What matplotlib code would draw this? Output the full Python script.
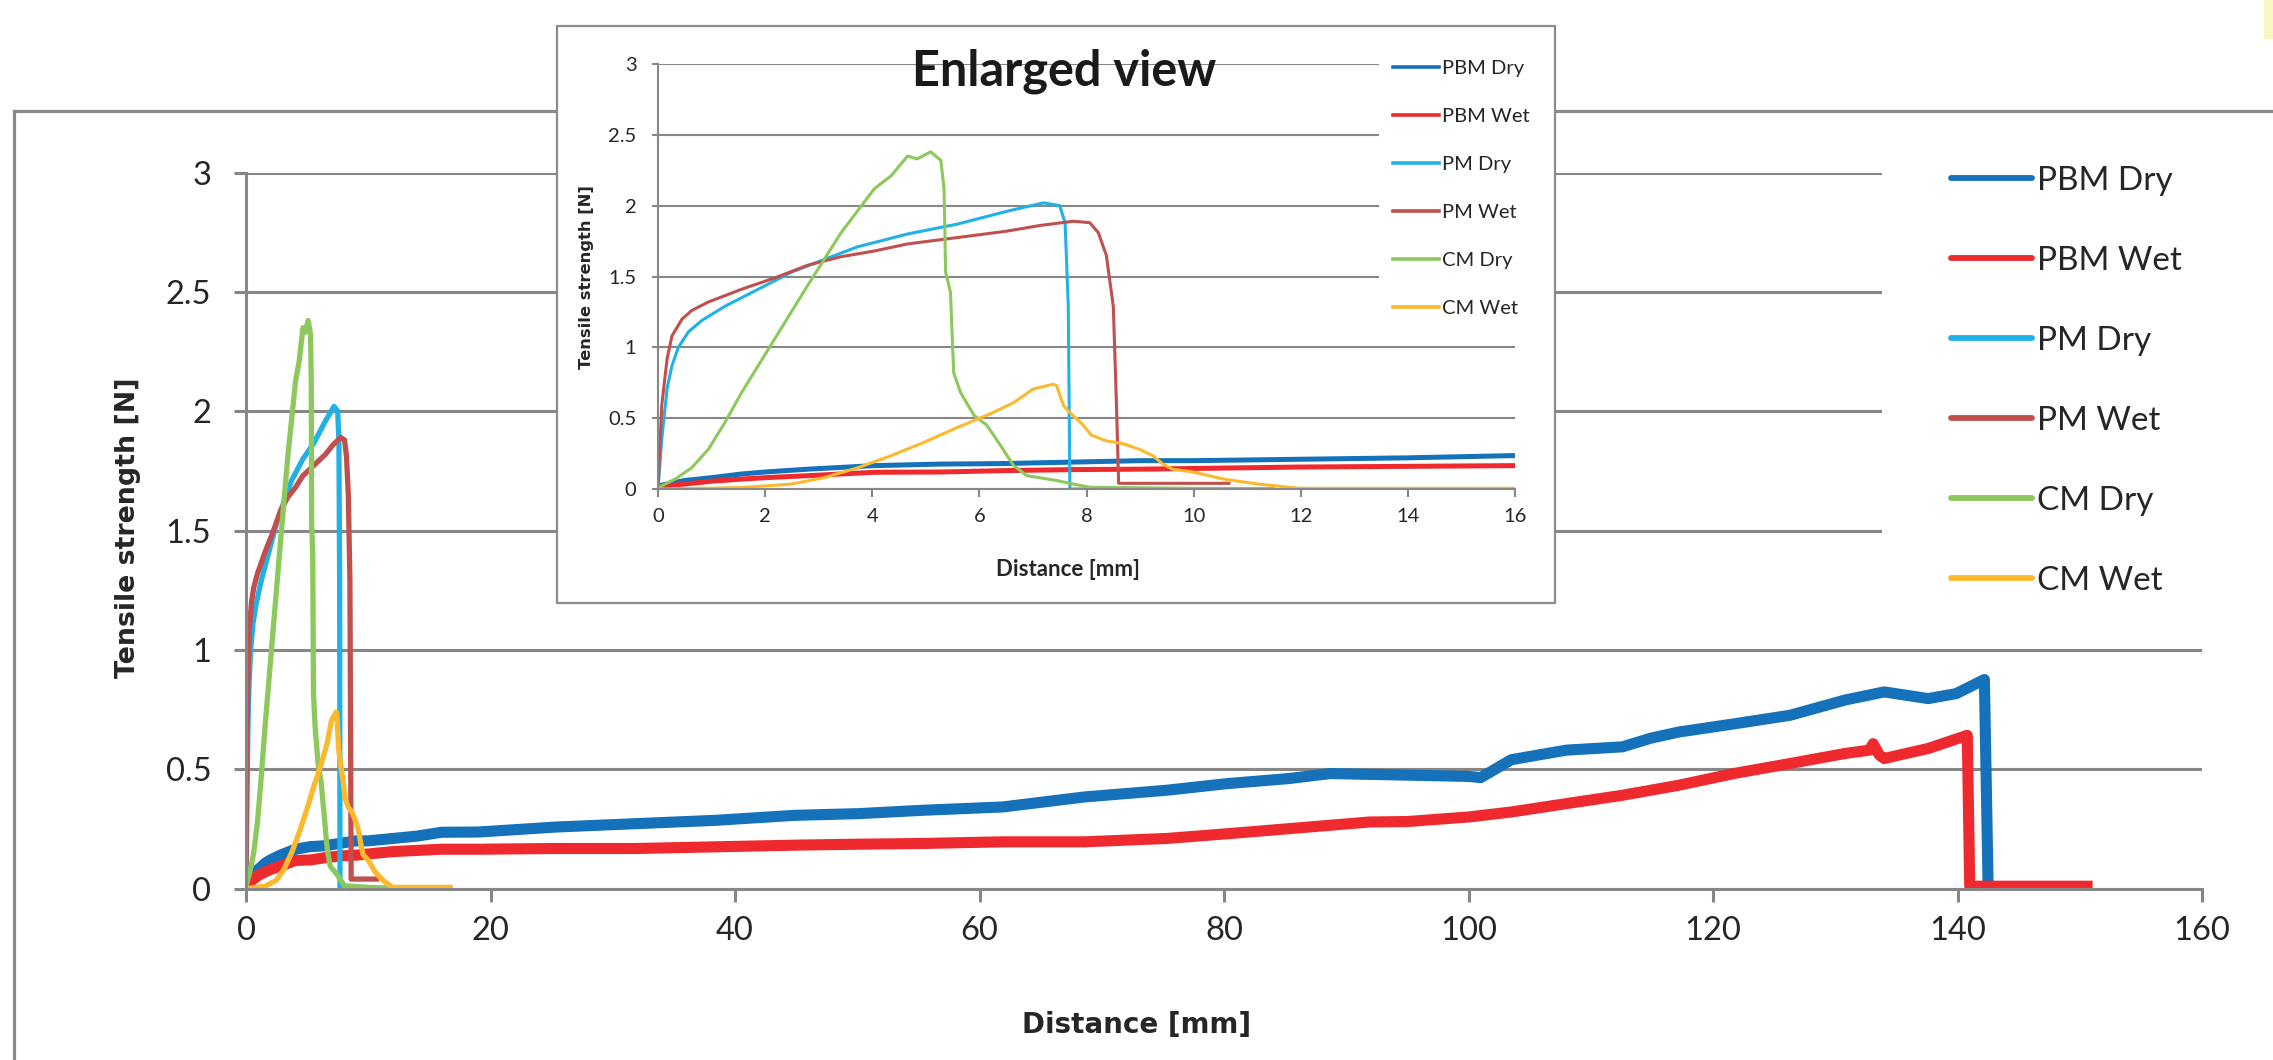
import matplotlib
matplotlib.use("Agg")
import matplotlib.pyplot as plt
from matplotlib.patches import Rectangle
from matplotlib.lines import Line2D

# ---------------- data ----------------
pbm_dry_x = [0, 0.1, 0.32, 0.5, 1.0, 1.56, 2.0, 2.8, 4.04, 5.28, 6.0, 6.5, 7.75, 9.0, 10, 12, 14, 16, 19,
             25.4, 31.9, 38.4, 44.9, 50.1, 55.3, 61.9, 68.6, 75.3, 80.3, 85.3, 88.7, 95.3, 100, 101,
             103.5, 108, 112.6, 114.9, 117.2, 121.7, 126.3, 130.8, 134, 137.6, 139.9, 142.2, 142.5, 142.8]
pbm_dry_y = [0.02, 0.03, 0.047, 0.06, 0.08, 0.106, 0.12, 0.14, 0.165, 0.176, 0.178, 0.18, 0.19, 0.2, 0.2,
             0.21, 0.22, 0.236, 0.237, 0.258, 0.272, 0.286, 0.307, 0.314, 0.328, 0.342, 0.384, 0.412,
             0.44, 0.461, 0.482, 0.475, 0.47, 0.465, 0.54, 0.58, 0.594, 0.63, 0.656, 0.69, 0.726, 0.79,
             0.824, 0.796, 0.817, 0.876, 0.02, 0.01]

pbm_wet_x = [0, 0.1, 0.5, 1.0, 1.56, 2.0, 2.8, 4.04, 5.28, 6.5, 7.75, 9.0, 12, 16, 19, 25.4, 31.9, 38.4,
             44.9, 50.1, 55.3, 61.9, 68.6, 75.3, 80.3, 85.3, 91.9, 95, 100, 103.5, 108, 112.6, 117.2,
             121.7, 126.3, 130.8, 132.8, 133.1, 133.6, 134, 137.6, 140.8, 141.0, 145, 150.6]
pbm_wet_y = [0.01, 0.02, 0.035, 0.055, 0.07, 0.08, 0.094, 0.118, 0.12, 0.13, 0.137, 0.14, 0.155, 0.165,
             0.165, 0.168, 0.168, 0.175, 0.182, 0.186, 0.189, 0.196, 0.196, 0.21, 0.23, 0.251, 0.279,
             0.281, 0.30, 0.321, 0.356, 0.391, 0.433, 0.482, 0.524, 0.566, 0.58, 0.607, 0.56, 0.545,
             0.587, 0.642, 0.01, 0.01, 0.01]

pm_dry_x = [0, 0.07, 0.17, 0.26, 0.38, 0.57, 0.82, 1.25, 1.87, 2.49, 3.1, 3.73, 4.66, 5.59, 6.51, 7.2,
            7.5, 7.6, 7.66, 7.69, 7.95]
pm_dry_y = [0, 0.35, 0.71, 0.87, 1.0, 1.11, 1.19, 1.29, 1.41, 1.53, 1.62, 1.71, 1.8, 1.87, 1.96, 2.02,
            2.0, 1.88, 1.29, 0.0, 0.0]

pm_wet_x = [0, 0.07, 0.17, 0.26, 0.45, 0.63, 0.94, 1.56, 2.18, 2.8, 3.42, 4.04, 4.66, 5.28, 5.9, 6.51,
            7.13, 7.75, 8.06, 8.22, 8.37, 8.5, 8.56, 8.6, 9.5, 10.66]
pm_wet_y = [0, 0.59, 0.92, 1.08, 1.2, 1.26, 1.32, 1.41, 1.49, 1.58, 1.64, 1.68, 1.73, 1.76, 1.79, 1.82,
            1.86, 1.89, 1.88, 1.81, 1.65, 1.29, 0.59, 0.04, 0.04, 0.04]

cm_dry_x = [0, 0.32, 0.63, 0.94, 1.25, 1.56, 2.18, 2.8, 3.42, 4.04, 4.35, 4.66, 4.84, 5.09, 5.28, 5.34,
            5.37, 5.46, 5.52, 5.65, 5.9, 6.14, 6.39, 6.64, 6.89, 7.44, 7.75, 8.06, 10, 11.5]
cm_dry_y = [0.01, 0.07, 0.15, 0.28, 0.47, 0.68, 1.06, 1.44, 1.81, 2.12, 2.21, 2.35, 2.33, 2.38, 2.32,
            2.12, 1.53, 1.39, 0.82, 0.68, 0.52, 0.45, 0.31, 0.165, 0.094, 0.06, 0.035, 0.012, 0.005, 0.003]

cm_wet_x = [0, 1.56, 2.49, 3.1, 3.73, 4.35, 4.97, 5.59, 6.2, 6.64, 7.0, 7.38, 7.44, 7.57, 7.69, 7.94,
            8.09, 8.37, 8.68, 8.99, 9.24, 9.41, 9.6, 9.99, 10.56, 11.2, 11.97, 16.7]
cm_wet_y = [0, 0.01, 0.035, 0.08, 0.15, 0.235, 0.33, 0.435, 0.53, 0.61, 0.705, 0.74, 0.73, 0.59, 0.54,
            0.45, 0.38, 0.34, 0.32, 0.28, 0.235, 0.18, 0.14, 0.12, 0.07, 0.035, 0.005, 0.005]

series_names = ["PBM Dry", "PBM Wet", "PM Dry", "PM Wet", "CM Dry", "CM Wet"]
series_colors = ["#1471BA", "#EE2A2F", "#20B1E7", "#C0504D", "#8CC85C", "#FDB92D"]

main_xticks = [0, 20, 40, 60, 80, 100, 120, 140, 160]
inset_xticks = [0, 2, 4, 6, 8, 10, 12, 14, 16]
yticks = [0, 0.5, 1, 1.5, 2, 2.5, 3]
ytick_labels = ["0", "0.5", "1", "1.5", "2", "2.5", "3"]

xlabel = "Distance [mm]"
ylabel = "Tensile strength [N]"
inset_title = "Enlarged view"

# ---------------- layout ----------------
plt.rcParams["font.family"] = ["Lato", "DejaVu Sans"]
W, H = 2273, 1060
fig = plt.figure(figsize=(W / 100, H / 100), dpi=100)
fig.patch.set_facecolor("white")
GRAY = "#878787"
TXT = "#262626"


def fx(px):
    return px / W


def fy(py):
    return 1 - py / H


xs = [pbm_dry_x, pbm_wet_x, pm_dry_x, pm_wet_x, cm_dry_x, cm_wet_x]
ys = [pbm_dry_y, pbm_wet_y, pm_dry_y, pm_wet_y, cm_dry_y, cm_wet_y]


def style_axes(a, lw):
    a.set_facecolor("none")
    for s in ("top", "right"):
        a.spines[s].set_visible(False)
    for s in ("left", "bottom"):
        a.spines[s].set_color(GRAY)
        a.spines[s].set_linewidth(lw)
    a.set_axisbelow(True)
    a.yaxis.grid(True, color=GRAY, linewidth=lw)
    a.xaxis.grid(False)


# ---- main axes ----
ax = fig.add_axes([fx(246), fy(888.6), (2202 - 246) / W, (888.6 - 172.5) / H], zorder=0)
style_axes(ax, 2.2)
for i in range(6):
    lw = 8.0 if i < 2 else 3.8
    ax.plot(xs[i], ys[i], color=series_colors[i], lw=lw, label=series_names[i],
            solid_joinstyle="round")
ax.set_xlim(0, 160)
ax.set_ylim(0, 3)
ax.set_xticks(main_xticks)
ax.set_xticklabels([str(v) for v in main_xticks])
ax.set_yticks(yticks)
ax.set_yticklabels(ytick_labels)
ax.tick_params(axis="both", direction="out", length=9, width=2.2, color=GRAY,
               labelsize=23.5, labelcolor=TXT)
ax.tick_params(axis="x", pad=11)
ax.tick_params(axis="y", pad=16)
ax.set_xlabel(xlabel, family="DejaVu Sans", weight="bold", fontsize=20, color=TXT, va="center")
ax.xaxis.set_label_coords((1137 - 246) / 1956, (888.6 - 1025) / 716.1)
ax.set_ylabel(ylabel, family="DejaVu Sans", weight="bold", fontsize=19.3, color=TXT, va="center")
ax.yaxis.set_label_coords((128 - 246) / 1956, (888.6 - 528) / 716.1)

# white box behind the main legend (covers grid lines)
ax.add_patch(Rectangle((fx(1882), fy(612)), (2215 - 1882) / W, (612 - 140) / H,
                       transform=fig.transFigure, facecolor="white", edgecolor="none",
                       zorder=1, clip_on=False))
leg = ax.legend(loc="upper left", bbox_to_anchor=(fx(1951), fy(166)), bbox_transform=fig.transFigure,
                frameon=False, fontsize=24, handlelength=2.43, handletextpad=0.15,
                labelspacing=1.5, borderpad=0, borderaxespad=0)
for t in leg.get_texts():
    t.set_color(TXT)
for l in leg.get_lines():
    l.set_linewidth(4.2)
    l.set_solid_capstyle("round")

# ---- outer frame & decorations ----
fig.add_artist(Line2D([fx(14), 1.0], [fy(111), fy(111)], transform=fig.transFigure,
                      color="#8a8a8a", lw=2.3, zorder=0.5))
fig.add_artist(Line2D([fx(14), fx(14)], [fy(111), 0.0], transform=fig.transFigure,
                      color="#8a8a8a", lw=2.3, zorder=0.5))
fig.add_artist(Rectangle((fx(2264), fy(39)), 9 / W, 39 / H, transform=fig.transFigure,
                         facecolor="#FAF6C3", edgecolor="none", zorder=0.5))

# ---- inset ----
fig.add_artist(Rectangle((fx(557), fy(603)), 998 / W, 577 / H, transform=fig.transFigure,
                         facecolor="white", edgecolor="#8c8c8c", lw=1.6, zorder=1))
ins = fig.add_axes([fx(658), fy(489), (1515 - 658) / W, 425 / H], zorder=2)
style_axes(ins, 1.5)
for i in range(6):
    lw = 3.6 if i < 2 else 2.2
    ins.plot(xs[i], ys[i], color=series_colors[i], lw=lw, label=series_names[i], solid_joinstyle="round")
ins.set_xlim(0, 16)
ins.set_ylim(0, 3)
ins.set_xticks(inset_xticks)
ins.set_xticklabels([str(v) for v in inset_xticks])
ins.set_yticks(yticks)
ins.set_yticklabels(ytick_labels)
ins.tick_params(axis="both", direction="out", width=1.5, color=GRAY, labelsize=14.5, labelcolor=TXT)
ins.tick_params(axis="x", length=6, pad=7.5)
ins.tick_params(axis="y", length=4.5, pad=11)
ins.set_xlabel(xlabel, weight="bold", fontsize=16, color=TXT, va="center")
ins.xaxis.set_label_coords((1068 - 658) / 857, (489 - 570) / 425)
ins.set_ylabel(ylabel, family="DejaVu Sans", weight="bold", fontsize=11.8, color=TXT, va="center")
ins.yaxis.set_label_coords((587 - 658) / 857, (489 - 277) / 425)

ins.add_patch(Rectangle((fx(1379), fy(326)), (1522 - 1379) / W, (326 - 40) / H,
                        transform=fig.transFigure, facecolor="white", edgecolor="none",
                        zorder=1, clip_on=False))
leg2 = ins.legend(loc="upper left", bbox_to_anchor=(fx(1393), fy(60)), bbox_transform=fig.transFigure,
                  frameon=False, fontsize=14.5, handlelength=2.3, handletextpad=0.15,
                  labelspacing=1.53, borderpad=0, borderaxespad=0)
for t in leg2.get_texts():
    t.set_color(TXT)
for l in leg2.get_lines():
    l.set_linewidth(2.6)

fig.text(fx(1064), fy(71), inset_title, ha="center", va="center", fontsize=35, weight="bold",
         color="#1a1a1a", zorder=3)

fig.savefig("out.png", dpi=100, facecolor="white")
